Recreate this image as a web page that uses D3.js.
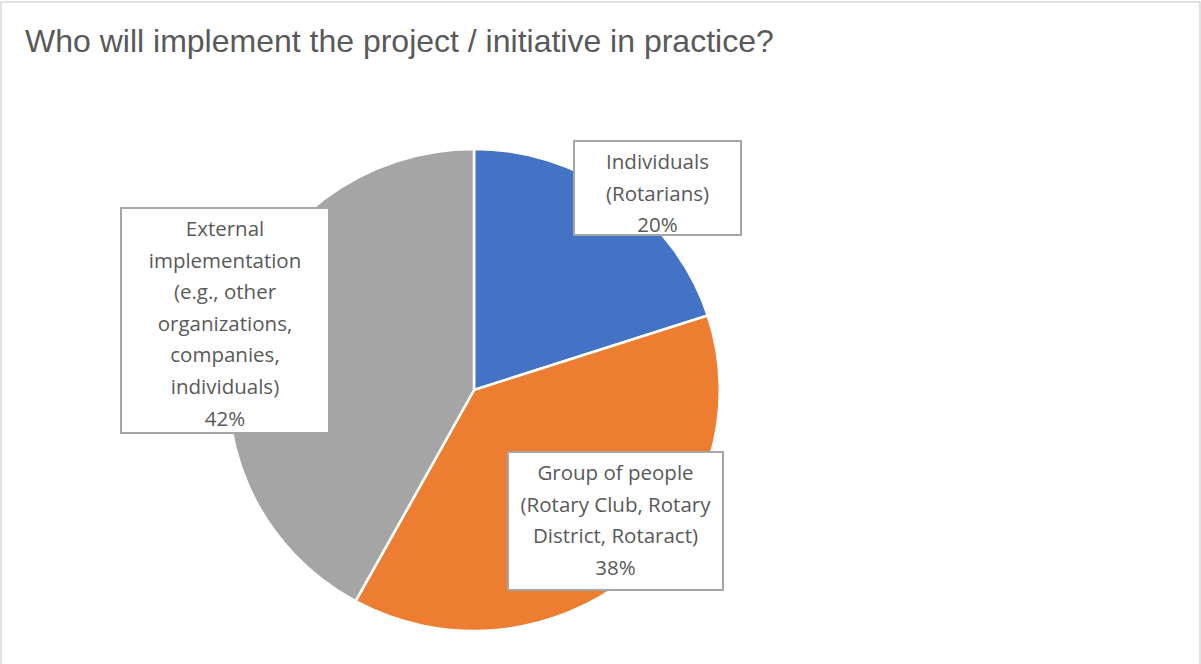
<!DOCTYPE html>
<html>
<head>
<meta charset="utf-8">
<script src="https://cdn.jsdelivr.net/npm/d3@7"></script>
<style>
  html, body { margin: 0; padding: 0; background: #fff; }
  svg { display: block; }
</style>
</head>
<body>
<svg id="chart" width="1201" height="664"></svg>
<script>
const title = "Who will implement the project / initiative in practice?";
const categories = ["Individuals (Rotarians)", "Group of people (Rotary Club, Rotary District, Rotaract)", "External implementation (e.g., other organizations, companies, individuals)"];
const values = [20, 38, 42];
const colors = ["#4472C4", "#ED7D31", "#A5A5A5"];
const labelLines = [
  ["Individuals", "(Rotarians)", "20%"],
  ["Group of people", "(Rotary Club, Rotary", "District, Rotaract)", "38%"],
  ["External", "implementation", "(e.g., other", "organizations,", "companies,", "individuals)", "42%"]
];

const svg = d3.select("#chart");
const W = 1201, H = 664;

// outer frame
svg.append("rect").attr("x", 1).attr("y", 2).attr("width", W - 2).attr("height", H + 20)
  .attr("fill", "#fff").attr("stroke", "#d9d9d9").attr("stroke-width", 1.5);

svg.append("text").attr("x", 25).attr("y", 52)
  .attr("font-family", "'Liberation Sans', Arial, sans-serif")
  .attr("font-size", 32).attr("fill", "#595959").text(title);

const cx = 474, cy = 390, r = 241;
const pie = d3.pie().sort(null).value(d => d)(values);
const arc = d3.arc().innerRadius(0).outerRadius(r);

const g = svg.append("g").attr("transform", `translate(${cx},${cy}) scale(1.02,1)`);
g.selectAll("path").data(pie).join("path")
  .attr("d", arc)
  .attr("fill", (d, i) => colors[i])
  .attr("stroke", "#fff").attr("stroke-width", 2.5)
  .attr("stroke-linejoin", "round");

// label boxes
const boxes = [
  { x: 574, y: 141, w: 167, h: 94 },
  { x: 508, y: 452, w: 215, h: 138 },
  { x: 121, y: 208, w: 208, h: 225 }
];
const lineH = 31.6;
boxes.forEach((b, i) => {
  const lg = svg.append("g");
  lg.append("rect").attr("x", b.x).attr("y", b.y).attr("width", b.w).attr("height", b.h)
    .attr("fill", "#fff").attr("stroke", "#a6a6a6").attr("stroke-width", 2);
  const t = lg.append("text")
    .attr("font-family", "'Open Sans', 'Noto Sans', sans-serif")
    .attr("font-size", 20.5).attr("fill", "#595959").attr("text-anchor", "middle");
  labelLines[i].forEach((ln, j) => {
    t.append("tspan").attr("x", b.x + b.w / 2).attr("y", b.y + 28 + j * lineH).text(ln);
  });
});
</script>
</body>
</html>
